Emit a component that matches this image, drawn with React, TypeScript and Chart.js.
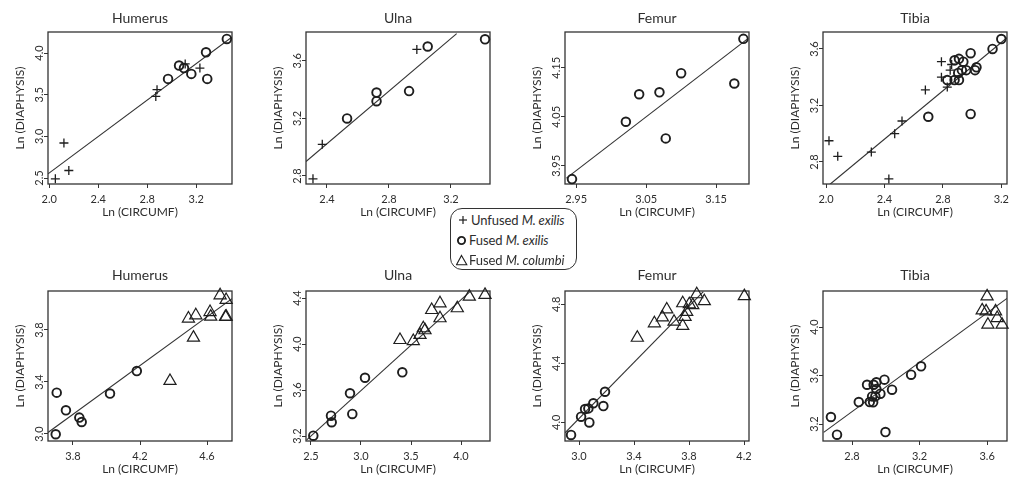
import React, { useEffect, useRef } from 'react';
import { Chart, registerables } from 'chart.js';

Chart.register(...registerables);

type P = [number, number];

// ---------- data: top row (Unfused / Fused M. exilis) ----------
const TOP_HUMERUS_UNFUSED: P[] = [[2.05, 2.49], [2.16, 2.59], [2.12, 2.92], [2.87, 3.48], [2.88, 3.56], [3.11, 3.87], [3.23, 3.82]];
const TOP_HUMERUS_FUSED: P[] = [[2.97, 3.69], [3.06, 3.85], [3.10, 3.82], [3.16, 3.75], [3.28, 4.01], [3.29, 3.69], [3.45, 4.17]];
const TOP_HUMERUS_FIT: P[] = [[1.99, 2.55], [3.49, 4.19]];

const TOP_ULNA_UNFUSED: P[] = [[2.31, 2.78], [2.37, 3.02], [2.98, 3.68]];
const TOP_ULNA_FUSED: P[] = [[2.53, 3.2], [2.72, 3.38], [2.72, 3.32], [2.93, 3.39], [3.05, 3.7], [3.42, 3.75]];
const TOP_ULNA_FIT: P[] = [[2.265, 2.9], [3.237, 3.79]];

const TOP_FEMUR_FUSED: P[] = [[2.944, 3.923], [3.021, 4.04], [3.04, 4.096], [3.069, 4.1], [3.078, 4.006], [3.1, 4.139], [3.176, 4.118], [3.189, 4.209]];
const TOP_FEMUR_FIT: P[] = [[2.936, 3.925], [3.194, 4.208]];

const TOP_TIBIA_UNFUSED: P[] = [[2.02, 2.95], [2.08, 2.84], [2.31, 2.87], [2.47, 3.0], [2.43, 2.68], [2.52, 3.09], [2.68, 3.31], [2.79, 3.51], [2.79, 3.4], [2.83, 3.33], [2.85, 3.45], [2.86, 3.49]];
const TOP_TIBIA_FUSED: P[] = [[2.7, 3.12], [2.99, 3.14], [2.83, 3.38], [2.88, 3.38], [2.91, 3.38], [2.88, 3.52], [2.91, 3.53], [2.94, 3.51], [2.905, 3.43], [2.93, 3.45], [2.96, 3.45], [2.99, 3.57], [3.02, 3.45], [3.03, 3.47], [3.14, 3.6], [3.2, 3.67]];
const TOP_TIBIA_FIT: P[] = [[2.027, 2.642], [3.239, 3.679]];

// ---------- data: bottom row (Fused M. exilis / Fused M. columbi) ----------
const BOT_HUMERUS_FUSED: P[] = [[3.697, 2.998], [3.703, 3.318], [3.758, 3.182], [3.838, 3.126], [3.852, 3.092], [4.021, 3.311], [4.181, 3.484]];
const BOT_HUMERUS_COLUMBI: P[] = [[4.379, 3.408], [4.489, 3.888], [4.533, 3.913], [4.519, 3.741], [4.618, 3.938], [4.622, 3.903], [4.678, 4.067], [4.714, 4.031], [4.714, 3.903], [4.71, 3.9]];
const BOT_HUMERUS_FIT: P[] = [[3.651, 3.011], [4.749, 4.041]];

const BOT_ULNA_FUSED: P[] = [[2.523, 3.203], [2.7, 3.377], [2.707, 3.32], [2.89, 3.572], [2.913, 3.392], [3.04, 3.707], [3.413, 3.754]];
const BOT_ULNA_COLUMBI: P[] = [[3.39, 4.035], [3.523, 4.026], [3.59, 4.079], [3.623, 4.137], [3.64, 4.12], [3.707, 4.296], [3.79, 4.354], [3.79, 4.224], [3.963, 4.311], [4.083, 4.412], [4.24, 4.427]];
const BOT_ULNA_FIT: P[] = [[2.457, 3.166], [4.09, 4.455]];

const BOT_FEMUR_FUSED: P[] = [[2.942, 3.914], [3.015, 4.038], [3.044, 4.09], [3.068, 4.094], [3.075, 3.999], [3.104, 4.129], [3.177, 4.11], [3.189, 4.207]];
const BOT_FEMUR_COLUMBI: P[] = [[3.424, 4.573], [3.548, 4.671], [3.606, 4.711], [3.638, 4.765], [3.691, 4.682], [3.754, 4.653], [3.754, 4.807], [3.771, 4.714], [3.783, 4.748], [3.802, 4.8], [3.827, 4.794], [3.856, 4.868], [3.911, 4.821], [4.202, 4.855]];
const BOT_FEMUR_FIT: P[] = [[2.898, 3.929], [3.904, 4.885]];

const BOT_TIBIA_FUSED: P[] = [[2.675, 3.258], [2.711, 3.112], [2.84, 3.381], [2.889, 3.524], [2.905, 3.381], [2.919, 3.428], [2.925, 3.379], [2.928, 3.524], [2.944, 3.544], [2.944, 3.489], [2.938, 3.428], [2.968, 3.45], [2.992, 3.566], [2.998, 3.134], [3.037, 3.483], [3.15, 3.607], [3.209, 3.676]];
const BOT_TIBIA_COLUMBI: P[] = [[3.6, 4.253], [3.594, 4.129], [3.605, 4.019], [3.65, 4.129], [3.66, 4.074], [3.689, 4.019], [3.571, 4.137]];
const BOT_TIBIA_FIT: P[] = [[2.632, 3.131], [3.718, 4.236]];

// ---------- axis ranges & tick values ----------
const TOP_HUMERUS_X: P = [1.99, 3.492];
const TOP_HUMERUS_Y: P = [2.428, 4.253];
const TOP_HUMERUS_XTICKS = [2.0, 2.4, 2.8, 3.2];
const TOP_HUMERUS_YTICKS = [2.5, 3.0, 3.5, 4.0];

const TOP_ULNA_X: P = [2.265, 3.452];
const TOP_ULNA_Y: P = [2.744, 3.801];
const TOP_ULNA_XTICKS = [2.4, 2.8, 3.2];
const TOP_ULNA_YTICKS = [2.8, 3.2, 3.6];

const TOP_FEMUR_X: P = [2.934, 3.197];
const TOP_FEMUR_Y: P = [3.913, 4.223];
const TOP_FEMUR_XTICKS = [2.95, 3.05, 3.15];
const TOP_FEMUR_YTICKS = [3.95, 4.05, 4.15];

const TOP_TIBIA_X: P = [1.979, 3.239];
const TOP_TIBIA_Y: P = [2.644, 3.72];
const TOP_TIBIA_XTICKS = [2.0, 2.4, 2.8, 3.2];
const TOP_TIBIA_YTICKS = [2.8, 3.2, 3.6];

const BOT_HUMERUS_X: P = [3.651, 4.749];
const BOT_HUMERUS_Y: P = [2.946, 4.1];
const BOT_HUMERUS_XTICKS = [3.8, 4.2, 4.6];
const BOT_HUMERUS_YTICKS = [3.0, 3.4, 3.8];

const BOT_ULNA_X: P = [2.45, 4.29];
const BOT_ULNA_Y: P = [3.157, 4.461];
const BOT_ULNA_XTICKS = [2.5, 3.0, 3.5, 4.0];
const BOT_ULNA_YTICKS = [3.2, 3.6, 4.0, 4.4];

const BOT_FEMUR_X: P = [2.898, 4.236];
const BOT_FEMUR_Y: P = [3.873, 4.89];
const BOT_FEMUR_XTICKS = [3.0, 3.4, 3.8, 4.2];
const BOT_FEMUR_YTICKS = [4.0, 4.4, 4.8];

const BOT_TIBIA_X: P = [2.628, 3.718];
const BOT_TIBIA_Y: P = [3.06, 4.297];
const BOT_TIBIA_XTICKS = [2.8, 3.2, 3.6];
const BOT_TIBIA_YTICKS = [3.2, 3.6, 4.0];

// ---------- styling / layout ----------
const FONT = 'Lato, "Open Sans", sans-serif';
const INK = '#1e1e1e';
const TEXT = '#2e2e2e';
const Y_AXIS_W = 46;
const X_AXIS_H = 40;
const TITLE_H = 32;
const PLOT_W = 184;
const RIGHT_PAD = 12;
const TICK_FONT_SIZE = 11;

interface PanelSpec {
  title: string;
  unfused?: P[];
  fused: P[];
  columbi?: P[];
  fit: P[];
  xr: P;
  yr: P;
  xt: number[];
  yt: number[];
  dec: number;
  plotLeft: number;
  plotTop: number;
  plotH: number;
  titlePad: { top: number; bottom: number };
}

const TOP_PAD = { top: 9.6, bottom: 5.6 };
const BOT_PAD = { top: 7.6, bottom: 7.6 };

const PANELS: PanelSpec[] = [
  { title: 'Humerus', unfused: TOP_HUMERUS_UNFUSED, fused: TOP_HUMERUS_FUSED, fit: TOP_HUMERUS_FIT, xr: TOP_HUMERUS_X, yr: TOP_HUMERUS_Y, xt: TOP_HUMERUS_XTICKS, yt: TOP_HUMERUS_YTICKS, dec: 1, plotLeft: 48, plotTop: 32, plotH: 152, titlePad: TOP_PAD },
  { title: 'Ulna', unfused: TOP_ULNA_UNFUSED, fused: TOP_ULNA_FUSED, fit: TOP_ULNA_FIT, xr: TOP_ULNA_X, yr: TOP_ULNA_Y, xt: TOP_ULNA_XTICKS, yt: TOP_ULNA_YTICKS, dec: 1, plotLeft: 306, plotTop: 32, plotH: 152, titlePad: TOP_PAD },
  { title: 'Femur', fused: TOP_FEMUR_FUSED, fit: TOP_FEMUR_FIT, xr: TOP_FEMUR_X, yr: TOP_FEMUR_Y, xt: TOP_FEMUR_XTICKS, yt: TOP_FEMUR_YTICKS, dec: 2, plotLeft: 565, plotTop: 32, plotH: 152, titlePad: TOP_PAD },
  { title: 'Tibia', unfused: TOP_TIBIA_UNFUSED, fused: TOP_TIBIA_FUSED, fit: TOP_TIBIA_FIT, xr: TOP_TIBIA_X, yr: TOP_TIBIA_Y, xt: TOP_TIBIA_XTICKS, yt: TOP_TIBIA_YTICKS, dec: 1, plotLeft: 823, plotTop: 32, plotH: 152, titlePad: TOP_PAD },
  { title: 'Humerus', fused: BOT_HUMERUS_FUSED, columbi: BOT_HUMERUS_COLUMBI, fit: BOT_HUMERUS_FIT, xr: BOT_HUMERUS_X, yr: BOT_HUMERUS_Y, xt: BOT_HUMERUS_XTICKS, yt: BOT_HUMERUS_YTICKS, dec: 1, plotLeft: 48, plotTop: 291, plotH: 150, titlePad: BOT_PAD },
  { title: 'Ulna', fused: BOT_ULNA_FUSED, columbi: BOT_ULNA_COLUMBI, fit: BOT_ULNA_FIT, xr: BOT_ULNA_X, yr: BOT_ULNA_Y, xt: BOT_ULNA_XTICKS, yt: BOT_ULNA_YTICKS, dec: 1, plotLeft: 306, plotTop: 291, plotH: 150, titlePad: BOT_PAD },
  { title: 'Femur', fused: BOT_FEMUR_FUSED, columbi: BOT_FEMUR_COLUMBI, fit: BOT_FEMUR_FIT, xr: BOT_FEMUR_X, yr: BOT_FEMUR_Y, xt: BOT_FEMUR_XTICKS, yt: BOT_FEMUR_YTICKS, dec: 1, plotLeft: 565, plotTop: 291, plotH: 150, titlePad: BOT_PAD },
  { title: 'Tibia', fused: BOT_TIBIA_FUSED, columbi: BOT_TIBIA_COLUMBI, fit: BOT_TIBIA_FIT, xr: BOT_TIBIA_X, yr: BOT_TIBIA_Y, xt: BOT_TIBIA_XTICKS, yt: BOT_TIBIA_YTICKS, dec: 1, plotLeft: 823, plotTop: 291, plotH: 150, titlePad: BOT_PAD },
];

const toXY = (pts: P[]) => pts.map(([x, y]) => ({ x, y }));

const framePlugin = {
  id: 'frame',
  beforeDatasetsDraw(chart: any) {
    const { ctx, chartArea } = chart;
    const { left, top, right, bottom } = chartArea;
    ctx.save();
    ctx.strokeStyle = '#333';
    ctx.lineWidth = 1.3;
    ctx.strokeRect(left, top, right - left, bottom - top);
    ctx.restore();
  },
};

function measureWidest(labels: string[]): number {
  const c = document.createElement('canvas').getContext('2d');
  if (!c) return 16;
  c.font = `${TICK_FONT_SIZE}px ${FONT}`;
  return Math.max(...labels.map((l) => c.measureText(l).width));
}

function Panel({ spec }: { spec: PanelSpec }) {
  const ref = useRef<HTMLCanvasElement | null>(null);
  const width = Y_AXIS_W + PLOT_W + RIGHT_PAD;
  const height = TITLE_H + spec.plotH + X_AXIS_H;

  useEffect(() => {
    const canvas = ref.current;
    if (!canvas) return;
    const fmt = (v: number) => Number(v).toFixed(spec.dec);
    const widest = measureWidest(spec.yt.map(fmt));
    const yPad = 9 - 4 - widest / 2;

    const datasets: any[] = [];
    if (spec.unfused) {
      datasets.push({
        label: 'Unfused M. exilis',
        data: toXY(spec.unfused),
        pointStyle: 'cross',
        pointRadius: 4.5,
        pointHoverRadius: 4.5,
        pointBorderWidth: 1.3,
        borderColor: INK,
        backgroundColor: INK,
        clip: false,
      });
    }
    datasets.push({
      label: 'Fused M. exilis',
      data: toXY(spec.fused),
      pointStyle: 'circle',
      pointRadius: 4.3,
      pointHoverRadius: 4.3,
      pointBorderWidth: 1.9,
      borderColor: INK,
      backgroundColor: 'rgba(0,0,0,0)',
      clip: false,
    });
    if (spec.columbi) {
      datasets.push({
        label: 'Fused M. columbi',
        data: toXY(spec.columbi),
        pointStyle: 'triangle',
        pointRadius: 7,
        pointHoverRadius: 7,
        pointBorderWidth: 1.2,
        borderColor: INK,
        backgroundColor: 'rgba(0,0,0,0)',
        clip: false,
      });
    }
    datasets.push({
      label: 'fit',
      data: toXY(spec.fit),
      showLine: true,
      pointRadius: 0,
      pointHoverRadius: 0,
      borderColor: '#333',
      borderWidth: 1.1,
      fill: false,
    });

    const tickFont = { family: FONT, size: TICK_FONT_SIZE };
    const axisTitleFont = { family: FONT, size: 12 };

    const chart = new Chart(canvas, {
      type: 'scatter',
      data: { datasets },
      plugins: [framePlugin],
      options: {
        animation: false,
        responsive: false,
        events: [],
        layout: { padding: { left: 0, top: 0, right: RIGHT_PAD, bottom: 0 } },
        plugins: {
          legend: { display: false },
          tooltip: { enabled: false },
          title: {
            display: true,
            text: spec.title,
            fullSize: false,
            color: TEXT,
            font: { family: FONT, size: 14, weight: 'normal' as any, lineHeight: 1.2 },
            padding: spec.titlePad,
          },
        },
        scales: {
          x: {
            type: 'linear',
            min: spec.xr[0],
            max: spec.xr[1],
            afterBuildTicks: (s: any) => {
              s.ticks = spec.xt.map((v) => ({ value: v }));
            },
            afterFit: (s: any) => {
              s.height = X_AXIS_H;
            },
            ticks: {
              callback: (v: any) => fmt(v),
              font: tickFont,
              color: TEXT,
              padding: 4.4,
              maxRotation: 0,
              minRotation: 0,
              autoSkip: false,
            },
            grid: { drawOnChartArea: false, drawTicks: true, tickLength: 4, color: '#333', lineWidth: 1 },
            border: { display: false },
            title: { display: true, text: 'Ln (CIRCUMF)', color: TEXT, font: axisTitleFont, padding: { top: 0, bottom: 4.8 } },
          },
          y: {
            type: 'linear',
            min: spec.yr[0],
            max: spec.yr[1],
            afterBuildTicks: (s: any) => {
              s.ticks = spec.yt.map((v) => ({ value: v }));
            },
            afterFit: (s: any) => {
              s.width = Y_AXIS_W;
            },
            ticks: {
              callback: (v: any) => fmt(v),
              font: tickFont,
              color: TEXT,
              padding: yPad,
              minRotation: 90,
              maxRotation: 90,
              crossAlign: 'center',
              autoSkip: false,
            },
            grid: { drawOnChartArea: false, drawTicks: true, tickLength: 4, color: '#333', lineWidth: 1 },
            border: { display: false },
            title: { display: true, text: 'Ln (DIAPHYSIS)', color: TEXT, font: axisTitleFont, padding: { top: 10.8, bottom: 0 } },
          },
        },
      } as any,
    });
    return () => chart.destroy();
  }, [spec]);

  return (
    <div
      style={{
        position: 'absolute',
        left: spec.plotLeft - Y_AXIS_W,
        top: spec.plotTop - TITLE_H,
        width,
        height,
      }}
    >
      <canvas ref={ref} width={width} height={height} style={{ display: 'block', width, height }} />
    </div>
  );
}

function PlusIcon() {
  return (
    <svg width={12} height={12} style={{ verticalAlign: '-1px' }}>
      <line x1={3} y1={6} x2={11} y2={6} stroke={INK} strokeWidth={1.2} />
      <line x1={7} y1={2} x2={7} y2={10} stroke={INK} strokeWidth={1.2} />
    </svg>
  );
}
function CircleIcon() {
  return (
    <svg width={11} height={12} style={{ verticalAlign: '-1px' }}>
      <circle cx={5.5} cy={6.5} r={3.6} fill="none" stroke={INK} strokeWidth={1.9} />
    </svg>
  );
}
function TriangleIcon() {
  return (
    <svg width={12} height={12} style={{ verticalAlign: '-1px' }}>
      <polygon points="5.5,1.5 10.8,10.8 0.5,10.8" fill="none" stroke={INK} strokeWidth={1.1} />
    </svg>
  );
}

function Legend() {
  const row: React.CSSProperties = { height: 20, lineHeight: '20px', whiteSpace: 'nowrap' };
  return (
    <div
      style={{
        position: 'absolute',
        left: 450,
        top: 208,
        width: 127,
        height: 62,
        boxSizing: 'border-box',
        border: '1.3px solid #333',
        borderRadius: 12,
        paddingLeft: 5,
        paddingTop: 0.5,
        fontFamily: FONT,
        fontSize: 13,
        letterSpacing: '-0.1px',
        color: TEXT,
        background: '#fff',
        zIndex: 2,
      }}
    >
      <div style={row}>
        <PlusIcon />
        <span style={{ marginLeft: 3 }}>Unfused <i>M. exilis</i></span>
      </div>
      <div style={row}>
        <CircleIcon />
        <span style={{ marginLeft: 2 }}>Fused <i>M. exilis</i></span>
      </div>
      <div style={row}>
        <TriangleIcon />
        <span style={{ marginLeft: 1 }}>Fused <i>M. columbi</i></span>
      </div>
    </div>
  );
}

export default function App() {
  return (
    <div
      style={{
        position: 'absolute',
        left: 0,
        top: 0,
        width: 1013,
        height: 481,
        overflow: 'hidden',
        background: '#fff',
      }}
    >
      {PANELS.map((p, i) => (
        <Panel key={i} spec={p} />
      ))}
      <Legend />
    </div>
  );
}
